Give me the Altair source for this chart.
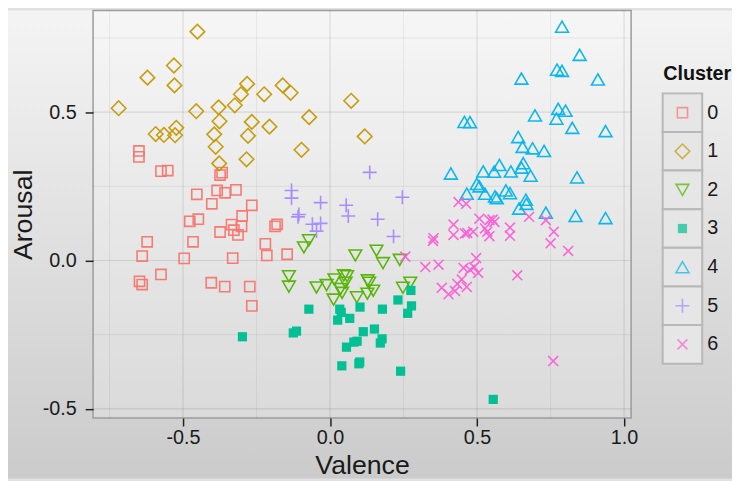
import altair as alt
import pandas as pd

# ---------------- data ----------------
clusters = ["0", "1", "2", "3", "4", "5", "6"]
colors = ["#F8766D", "#C49A00", "#53B400", "#00C094", "#00B6EB", "#A58AFF", "#FB61D7"]

c0_x = [-0.650, -0.650, -0.575, -0.552, -0.374, -0.367, -0.453, -0.384, -0.357, -0.320,
        -0.402, -0.266, -0.299, -0.477, -0.448, -0.335, -0.301, -0.374, -0.327, -0.313,
        -0.187, -0.180, -0.622, -0.466, -0.220, -0.639, -0.496, -0.331, -0.215, -0.146,
        -0.575, -0.648, -0.639, -0.404, -0.358, -0.273, -0.266]
c0_y = [0.369, 0.349, 0.301, 0.303, 0.288, 0.296, 0.223, 0.236, 0.228, 0.238,
        0.191, 0.186, 0.150, 0.132, 0.139, 0.121, 0.115, 0.096, 0.102, 0.086,
        0.115, 0.122, 0.063, 0.063, 0.056, 0.015, 0.007, 0.008, 0.017, 0.021,
        -0.047, -0.070, -0.081, -0.075, -0.088, -0.088, -0.153]

c1_x = [-0.719, -0.451, -0.531, -0.621, -0.529, -0.455, -0.379, -0.324, -0.303, -0.282,
        -0.224, -0.161, -0.134, -0.376, -0.593, -0.565, -0.523, -0.527, -0.394, -0.389,
        -0.266, -0.279, -0.206, -0.377, -0.284, -0.071, -0.097, 0.072, 0.118]
c1_y = [0.513, 0.771, 0.657, 0.616, 0.590, 0.503, 0.516, 0.523, 0.560, 0.595,
        0.560, 0.590, 0.565, 0.469, 0.426, 0.423, 0.447, 0.422, 0.425, 0.383,
        0.467, 0.420, 0.451, 0.327, 0.341, 0.483, 0.373, 0.538, 0.418]

c2_x = [-0.072, -0.089, 0.086, 0.158, 0.180, 0.237, -0.140, -0.140, -0.046, -0.012,
        0.015, 0.047, 0.058, 0.036, 0.012, 0.041, 0.091, 0.128, 0.133, 0.147,
        0.127, 0.248, 0.273, 0.053]
c2_y = [0.068, 0.044, 0.017, 0.033, -0.009, 0.002, -0.053, -0.088, -0.091, -0.083,
        -0.064, -0.050, -0.053, -0.096, -0.132, -0.109, -0.124, -0.067, -0.075, -0.102,
        -0.112, -0.092, -0.075, -0.075]

c3_x = [-0.298, -0.125, -0.114, -0.072, 0.033, 0.038, 0.026, 0.067, 0.102, 0.178,
        0.231, 0.275, 0.277, 0.264, 0.113, 0.151, 0.177, 0.171, 0.092, 0.081,
        0.056, 0.101, 0.098, 0.040, 0.240, 0.555]
c3_y = [-0.257, -0.244, -0.238, -0.164, -0.164, -0.175, -0.201, -0.195, -0.157, -0.164,
        -0.133, -0.101, -0.153, -0.178, -0.240, -0.231, -0.264, -0.278, -0.272, -0.275,
        -0.292, -0.342, -0.348, -0.355, -0.373, -0.468]

c4_x = [0.789, 0.849, 0.772, 0.789, 0.911, 0.651, 0.697, 0.776, 0.801, 0.770,
        0.824, 0.937, 0.457, 0.476, 0.640, 0.655, 0.689, 0.728, 0.411, 0.521,
        0.576, 0.558, 0.615, 0.657, 0.651, 0.682, 0.840, 0.499, 0.508, 0.465,
        0.527, 0.561, 0.567, 0.598, 0.612, 0.666, 0.668, 0.643, 0.734, 0.835, 0.937]
c4_y = [0.788, 0.693, 0.643, 0.639, 0.610, 0.613, 0.489, 0.511, 0.505, 0.478,
        0.447, 0.436, 0.467, 0.466, 0.416, 0.383, 0.378, 0.369, 0.293, 0.300,
        0.322, 0.299, 0.300, 0.328, 0.313, 0.286, 0.280, 0.258, 0.250, 0.225,
        0.225, 0.216, 0.210, 0.236, 0.227, 0.205, 0.191, 0.175, 0.161, 0.150, 0.143]

c5_x = [-0.131, -0.131, -0.032, 0.135, 0.055, 0.062, 0.246, -0.106, -0.109, 0.162,
        -0.060, -0.032, -0.046, 0.216]
c5_y = [0.236, 0.210, 0.195, 0.297, 0.186, 0.150, 0.213, 0.155, 0.147, 0.139,
        0.122, 0.125, 0.099, 0.081]

c6_x = [0.437, 0.463, 0.508, 0.542, 0.553, 0.559, 0.527, 0.535, 0.542, 0.420,
        0.420, 0.459, 0.467, 0.487, 0.612, 0.612, 0.677, 0.734, 0.761, 0.750,
        0.352, 0.350, 0.256, 0.324, 0.369, 0.497, 0.454, 0.476, 0.490, 0.504,
        0.448, 0.465, 0.433, 0.380, 0.403, 0.425, 0.637, 0.759, 0.810]
c6_y = [0.197, 0.191, 0.141, 0.136, 0.138, 0.130, 0.108, 0.097, 0.082, 0.121,
        0.086, 0.091, 0.093, 0.097, 0.111, 0.083, 0.147, 0.136, 0.097, 0.058,
        0.075, 0.066, 0.013, -0.022, -0.014, 0.008, -0.025, -0.031, -0.022, -0.042,
        -0.064, -0.089, -0.079, -0.092, -0.114, -0.103, -0.050, -0.339, 0.032]

x_major = [-0.5, 0.0, 0.5, 1.0]
y_major = [-0.5, 0.0, 0.5]
x_minor = [-0.75, -0.25, 0.25, 0.75]
y_minor = [-0.25, 0.25, 0.75]

# ---------------- tables ----------------
xs = [c0_x, c1_x, c2_x, c3_x, c4_x, c5_x, c6_x]
ys = [c0_y, c1_y, c2_y, c3_y, c4_y, c5_y, c6_y]
rows = []
for k, (cx, cy) in enumerate(zip(xs, ys)):
    for a, b in zip(cx, cy):
        rows.append({"Valence": a, "Arousal": b, "Cluster": clusters[k]})
df = pd.DataFrame(rows)
leg_df = pd.DataFrame({"Cluster": clusters})
vx_df = pd.DataFrame({"v": x_major + x_minor, "kind": ["major"] * 4 + ["minor"] * 4})
vy_df = pd.DataFrame({"v": y_major + y_minor, "kind": ["major"] * 3 + ["minor"] * 3})
title_df = pd.DataFrame({"t": ["Cluster"]})

# ---------------- layout ----------------
W, H = 544, 412
PAD = {"left": 86, "top": 0, "right": 102, "bottom": 61}
FONT = "Liberation Sans"
XDOM = [-0.806, 1.024]
YDOM = [-0.531, 0.842]

plus_path = "M-1,0L1,0M0,-1L0,1"
cross_path = "M-1,-1L1,1M-1,1L1,-1"
shapes = ["square", "diamond", "triangle-down", "square", "triangle-up", plus_path, cross_path]
sizes = [106, 216, 165, 87, 169, 196, 100]
size_expr = "[" + ",".join(str(s) for s in sizes) + "][toNumber(datum.Cluster)]"

shape_enc = alt.Shape("Cluster:N", scale=alt.Scale(domain=clusters, range=shapes), legend=None)
size_enc = alt.Size("sz:Q", scale=None, legend=None)

xs_scale = alt.Scale(domain=XDOM, nice=False, zero=False)
ys_scale = alt.Scale(domain=YDOM, nice=False, zero=False)

lab_expr = "replace(format(datum.value, '.1f'), '\u2212', '-')"
x_axis = alt.Axis(values=x_major, labelExpr=lab_expr, grid=False, domain=False,
                  tickSize=8, tickWidth=1.5, tickColor="#222", labelFontSize=20,
                  labelFont=FONT, labelColor="#1a1a1a", labelPadding=2,
                  title="Valence", titleFont=FONT, titleFontSize=27,
                  titleFontWeight="normal", titleColor="#1a1a1a",
                  titleBaseline="alphabetic", titleY=56, zindex=1)
y_axis = alt.Axis(values=y_major, labelExpr=lab_expr, grid=False, domain=False,
                  tickSize=8, tickWidth=1.5, tickColor="#222", labelFontSize=20,
                  labelFont=FONT, labelColor="#1a1a1a", labelPadding=9,
                  title="Arousal", titleFont=FONT, titleFontSize=27,
                  titleFontWeight="normal", titleColor="#1a1a1a",
                  titleBaseline="alphabetic", titleX=-62, zindex=1)

bg_grad = alt.LinearGradient(gradient="linear",
                             stops=[alt.GradientStop(color="#f4f4f4", offset=0),
                                    alt.GradientStop(color="#cbcbcb", offset=1)],
                             x1=0, x2=0, y1=0, y2=1)

bg = alt.Chart(title_df).mark_rect(fill=bg_grad).encode(
    x=alt.value(-PAD["left"]), x2=alt.value(W + PAD["right"]),
    y=alt.value(-PAD["top"]), y2=alt.value(H + PAD["bottom"]))
panel = alt.Chart(title_df).mark_rect(fill="white", fillOpacity=0.22,
                                      stroke="#9c9c9c", strokeWidth=1.5).encode(
    x=alt.value(0), x2=alt.value(W), y=alt.value(0), y2=alt.value(H))

grid_col = alt.Color("kind:N", scale=alt.Scale(domain=["major", "minor"],
                                               range=["rgba(0,0,0,0.10)", "rgba(0,0,0,0.05)"]),
                     legend=None)
grid_x = alt.Chart(vx_df).mark_rule().encode(
    x=alt.X("v:Q", scale=xs_scale, axis=x_axis), color=grid_col, strokeWidth=alt.value(1.2))
grid_y = alt.Chart(vy_df).mark_rule().encode(
    y=alt.Y("v:Q", scale=ys_scale, axis=y_axis), color=grid_col, strokeWidth=alt.value(1.2))

pts_open = alt.Chart(df).transform_filter("datum.Cluster != '3'").transform_calculate(
    sz=size_expr).mark_point(filled=False, strokeWidth=1.6, opacity=0.95).encode(
    x=alt.X("Valence:Q", scale=xs_scale, axis=x_axis),
    y=alt.Y("Arousal:Q", scale=ys_scale, axis=y_axis),
    stroke=alt.Stroke("Cluster:N", scale=alt.Scale(domain=clusters, range=colors), legend=None),
    shape=shape_enc, size=size_enc)
pts_fill = alt.Chart(df).transform_filter("datum.Cluster == '3'").transform_calculate(
    sz=size_expr).mark_point(filled=True, opacity=1, strokeWidth=0).encode(
    x=alt.X("Valence:Q", scale=xs_scale, axis=x_axis),
    y=alt.Y("Arousal:Q", scale=ys_scale, axis=y_axis),
    fill=alt.Fill("Cluster:N", scale=alt.Scale(domain=clusters, range=colors), legend=None),
    shape=shape_enc, size=size_enc)

main = alt.layer(bg, panel, grid_x, grid_y, pts_open, pts_fill)

# ---------------- legend (own band scale) ----------------
leg_y = alt.Y("Cluster:N", scale=alt.Scale(domain=clusters, range=[83.7, 357],
                                           paddingInner=0, paddingOuter=0), axis=None)
LX0, LX1 = 575.9, 615.9
leg_box = alt.Chart(leg_df).mark_rect(fill="#e6e6e6", stroke="#b8b8b8", strokeWidth=2).encode(
    x=alt.value(LX0), x2=alt.value(LX1), y=leg_y)
leg_open = alt.Chart(leg_df).transform_filter("datum.Cluster != '3'").transform_calculate(
    sz=size_expr).mark_point(filled=False, strokeWidth=1.6).encode(
    x=alt.value((LX0 + LX1) / 2), y=leg_y,
    stroke=alt.Stroke("Cluster:N", scale=alt.Scale(domain=clusters, range=colors), legend=None),
    shape=shape_enc, size=size_enc)
leg_fill = alt.Chart(leg_df).transform_filter("datum.Cluster == '3'").transform_calculate(
    sz=size_expr).mark_point(filled=True, strokeWidth=0).encode(
    x=alt.value((LX0 + LX1) / 2), y=leg_y,
    fill=alt.Fill("Cluster:N", scale=alt.Scale(domain=clusters, range=colors), legend=None),
    shape=shape_enc, size=size_enc)
leg_text = alt.Chart(leg_df).mark_text(align="left", baseline="middle", font=FONT,
                                       fontSize=20, color="#1a1a1a").encode(
    x=alt.value(LX1 + 5), y=leg_y, text="Cluster:N")
leg_title = alt.Chart(title_df).mark_text(align="left", baseline="alphabetic", font=FONT,
                                          fontSize=20, fontWeight="bold", color="#111").encode(
    x=alt.value(LX0 + 0.5), y=alt.value(70.5), text="t:N")

legend = alt.layer(leg_box, leg_open, leg_fill, leg_text, leg_title)

chart = alt.layer(main, legend).resolve_scale(y="independent").properties(
    width=W, height=H, padding=PAD,
    autosize=alt.AutoSizeParams(type="none"),
    background="#e0e0e0",
).configure_view(stroke=None, fill=None)

chart.save("out.html", embed_options={"renderer": "svg", "actions": False})
